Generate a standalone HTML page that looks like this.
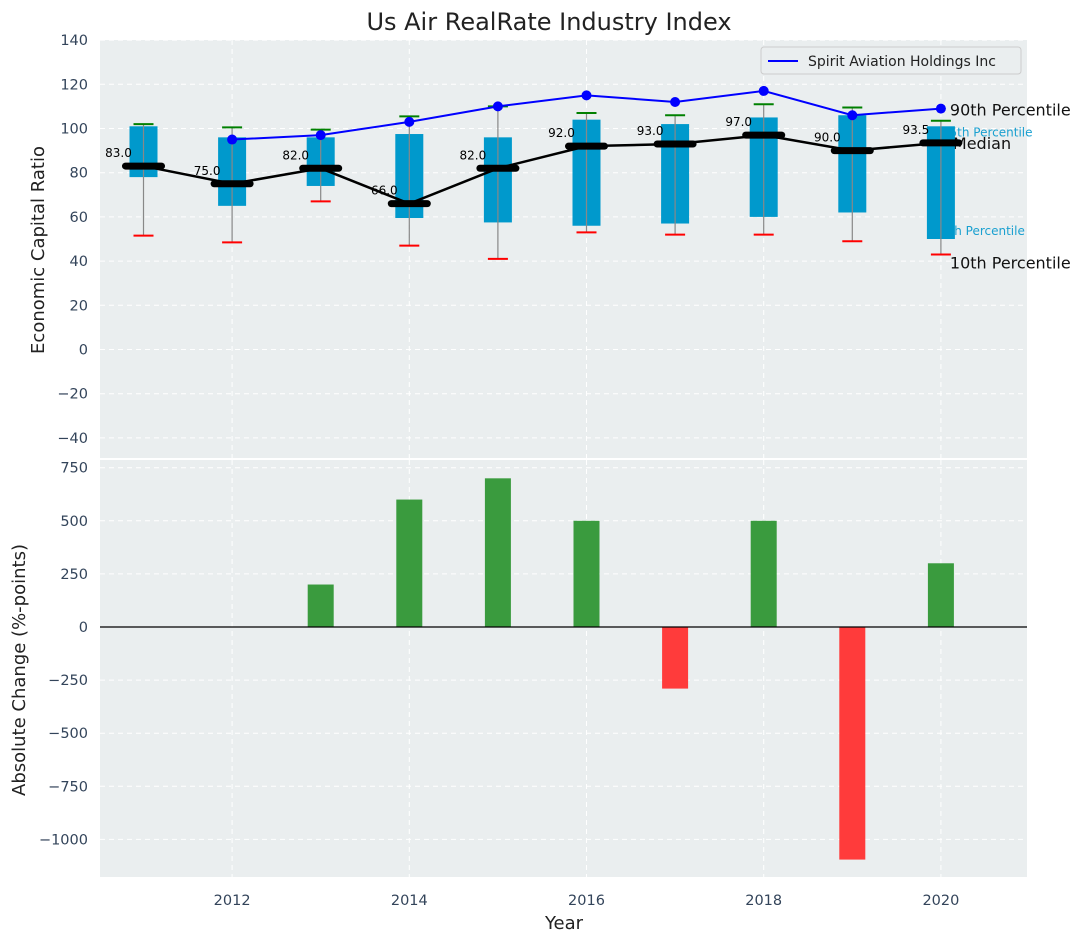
<!DOCTYPE html>
<html><head><meta charset="utf-8"><style>
body{margin:0;background:#fff;font-family:"Liberation Sans","DejaVu Sans",sans-serif}
svg text{font-family:"DejaVu Sans","Liberation Sans",sans-serif}
</style></head><body>
<svg id="chart" width="1085" height="942" xmlns="http://www.w3.org/2000/svg">
<defs>
<clipPath id="topclip"><rect x="100" y="40" width="927" height="418"/></clipPath>
<clipPath id="botclip"><rect x="100" y="460" width="927" height="417"/></clipPath>
</defs>
<text x="549" y="30" font-size="24" text-anchor="middle" fill="#222">Us Air RealRate Industry Index</text>
<rect x="100" y="40" width="927" height="418" fill="#eaeeef"/>
<rect x="100" y="460" width="927" height="417" fill="#eaeeef"/>
<g id="topG"></g><g id="botG"></g>
<text transform="translate(44,250) rotate(-90)" font-size="18" text-anchor="middle" fill="#222">Economic Capital Ratio</text>
<text transform="translate(25,670) rotate(-90)" font-size="18" text-anchor="middle" fill="#222">Absolute Change (%-points)</text>
<text x="564" y="929" font-size="18" text-anchor="middle" fill="#222">Year</text>
<g>
<rect x="761" y="47" width="260" height="27" rx="3" fill="#eaeeef" stroke="#ccc"/>
<line x1="768" y1="61" x2="798" y2="61" stroke="#0000ff" stroke-width="2"/>
<text x="808" y="66" font-size="14" fill="#222">Spirit Aviation Holdings Inc</text>
</g>
</svg>
<script>
const years=[2011,2012,2013,2014,2015,2016,2017,2018,2019,2020];
const boxLow=[78,65,74,59.5,57.5,56,57,60,62,50];
const boxHigh=[101,96,96,97.5,96,104,102,105,106,101];
const whiskLow=[51.5,48.5,67,47,41,53,52,52,49,43];
const whiskHigh=[102,100.5,99.5,105.5,110,107,106,111,109.5,103.5];
const medians=[83,75,82,66,82,92,93,97,90,93.5];
const spiritYears=[2012,2013,2014,2015,2016,2017,2018,2019,2020];
const spiritVals=[95,97,103,110,115,112,117,106,109];
const changeYears=[2013,2014,2015,2016,2017,2018,2019,2020];
const changeVals=[200,600,700,500,-290,500,-1095,300];
const topTicks=[140,120,100,80,60,40,20,0,-20,-40];
const botTicks=[750,500,250,0,-250,-500,-750,-1000];
const xTicks=[2012,2014,2016,2018,2020];

const NS='http://www.w3.org/2000/svg';
const X=y=>143.5+(y-2011)*88.6;
const YT=v=>349.5-v*2.21;
const YB=v=>627-v*0.2124;
function mk(parent,tag,attrs,text){const e=document.createElementNS(NS,tag);for(const k in attrs)e.setAttribute(k,attrs[k]);if(text!==undefined)e.textContent=text;parent.appendChild(e);return e;}
const svgEl=document.getElementById('chart');
const topG=document.getElementById('topG'), botG=document.getElementById('botG');
const gt=mk(topG,'g',{'clip-path':'url(#topclip)'});
const gb=mk(botG,'g',{'clip-path':'url(#botclip)'});
topTicks.forEach(v=>{mk(gt,'line',{x1:100,x2:1027,y1:YT(v),y2:YT(v),stroke:'#fff','stroke-dasharray':'5,4','stroke-width':1});
 const t=mk(svgEl,'text',{x:88,y:YT(v)+5,'font-size':14.5,'text-anchor':'end',fill:'#33445a'},v<0?'\u2212'+(-v):v);
 
 });
botTicks.forEach(v=>{mk(gb,'line',{x1:100,x2:1027,y1:YB(v),y2:YB(v),stroke:'#fff','stroke-dasharray':'5,4','stroke-width':1});
 const t=mk(svgEl,'text',{x:88,y:YB(v)+5,'font-size':14.5,'text-anchor':'end',fill:'#33445a'},v<0?'\u2212'+(-v):v);
 
 });
xTicks.forEach(y=>{mk(gt,'line',{x1:X(y),x2:X(y),y1:40,y2:458,stroke:'#fff','stroke-dasharray':'5,4'});
 mk(gb,'line',{x1:X(y),x2:X(y),y1:460,y2:877,stroke:'#fff','stroke-dasharray':'5,4'});
 const t=mk(svgEl,'text',{x:X(y),y:905,'font-size':14.5,'text-anchor':'middle',fill:'#33445a'},y);
 
 });
const lx=X(2020)+9;
const l1=mk(topG,'text',{x:lx,y:YT(spiritVals[spiritVals.length-1])+7,'font-size':16,fill:'#111'},'90th Percentile');


const l2=mk(topG,'text',{x:lx-8,y:YT(boxHigh[9])+10,'font-size':12,fill:'#1aa0d0'},'95th Percentile');


const l3=mk(topG,'text',{x:lx-8,y:YT(boxLow[9])-4,'font-size':12,fill:'#1aa0d0'},'5th Percentile');


const l4=mk(topG,'text',{x:lx,y:YT(whiskLow[9])+14,'font-size':16,fill:'#111'},'10th Percentile');


const l5=mk(topG,'text',{x:lx+3,y:YT(medians[9])+6,'font-size':16,fill:'#111'},'Median');


years.forEach((y,i)=>{
 const x=X(y);
 const b=mk(topG,'rect',{x:x-14,y:YT(boxHigh[i]),width:28,height:YT(boxLow[i])-YT(boxHigh[i]),fill:'#0099cc'});
 
 
 const w=mk(topG,'line',{x1:x,x2:x,y1:YT(whiskHigh[i]),y2:YT(whiskLow[i]),stroke:'#888','stroke-width':1.2});
 
 
 const c1=mk(topG,'line',{x1:x-10,x2:x+10,y1:YT(whiskHigh[i]),y2:YT(whiskHigh[i]),stroke:'green','stroke-width':2});
 
 
 const c2=mk(topG,'line',{x1:x-10,x2:x+10,y1:YT(whiskLow[i]),y2:YT(whiskLow[i]),stroke:'red','stroke-width':2});
 
 
});
const mp=mk(topG,'polyline',{points:years.map((y,i)=>X(y)+','+YT(medians[i])).join(' '),fill:'none',stroke:'#000','stroke-width':2.5});


years.forEach((y,i)=>{
 const m=mk(topG,'line',{x1:X(y)-18,x2:X(y)+18,y1:YT(medians[i]),y2:YT(medians[i]),stroke:'#000','stroke-width':7,'stroke-linecap':'round'});
 
 
 const t=mk(topG,'text',{x:X(y)-25,y:YT(medians[i])-9,'font-size':12,'text-anchor':'middle',fill:'#000'},medians[i].toFixed(1));
 
 
});
const sp=mk(topG,'polyline',{points:spiritYears.map((y,i)=>X(y)+','+YT(spiritVals[i])).join(' '),fill:'none',stroke:'#0000ff','stroke-width':2});


spiritYears.forEach((y,i)=>{const c=mk(topG,'circle',{cx:X(y),cy:YT(spiritVals[i]),r:5,fill:'#0000ff'});
 
 });
changeYears.forEach((y,i)=>{const v=changeVals[i];
 const r=mk(gb,'rect',{x:X(y)-13,y:Math.min(YB(v),YB(0)),width:26,height:Math.abs(YB(v)-YB(0)),fill:v>=0?'#3a9b3e':'#ff3b3b'});
 
 });
const zl=mk(gb,'line',{x1:100,x2:1027,y1:YB(0),y2:YB(0),stroke:'#000','stroke-width':1.2});


</script>
</body></html>
